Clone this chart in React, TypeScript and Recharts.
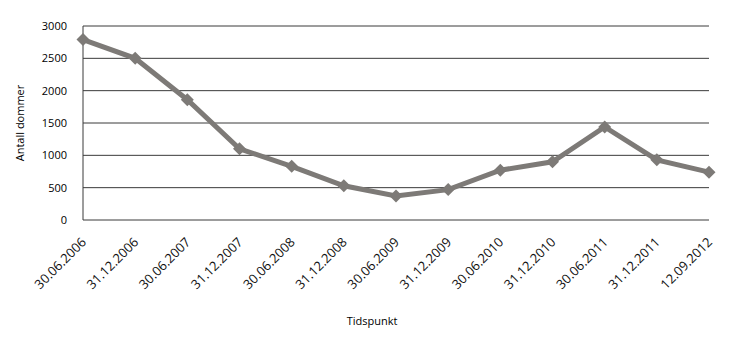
import { LineChart, Line, XAxis, YAxis, CartesianGrid, Label } from 'recharts'

const dates = [
  '30.06.2006', '31.12.2006', '30.06.2007', '31.12.2007', '30.06.2008', '31.12.2008',
  '30.06.2009', '31.12.2009', '30.06.2010', '31.12.2010', '30.06.2011', '31.12.2011', '12.09.2012',
]
const dommer = [2790, 2500, 1860, 1100, 830, 530, 370, 470, 770, 900, 1440, 930, 740]
const yTicks = [0, 500, 1000, 1500, 2000, 2500, 3000]

const data = dates.map((d, i) => ({ date: d, value: dommer[i] }))

const FONT = '"Open Sans", sans-serif'
const LINE = '#7d7a77'

const Diamond = (props: any) => {
  const { cx, cy } = props
  if (cx == null || cy == null) return null
  const r = 6.5
  return <path d={`M${cx},${cy - r}L${cx + r},${cy}L${cx},${cy + r}L${cx - r},${cy}Z`} fill={LINE} />
}

const DateTick = (props: any) => {
  const { x, y, payload } = props
  return (
    <text x={x + 4} y={y + 15} transform={`rotate(-45 ${x + 4} ${y + 15})`}
      textAnchor="end" fontSize={13} fontFamily={FONT} fill="#111">
      {payload.value}
    </text>
  )
}

export default function App() {
  return (
    <div style={{ position: 'absolute', left: 0, top: 0 }}>
      <LineChart width={730} height={343} data={data} margin={{ top: 26, right: 21, left: 0, bottom: 0 }}>
        <CartesianGrid vertical={false} stroke="#3a3a3a" strokeWidth={1} />
        <XAxis dataKey="date" axisLine={false} tickLine={false} height={123} interval={0}
          tick={<DateTick />} padding={{ left: 0, right: 0 }}>
          <Label value="Tidspunkt" position="insideBottom" offset={18} dx={-24}
            style={{ fontSize: 11, fontFamily: FONT, fill: '#000' }} />
        </XAxis>
        <YAxis width={83} domain={[0, 3000]} ticks={yTicks} interval={0} tickLine={false}
          axisLine={{ stroke: '#3a3a3a' }} tickSize={0} tickMargin={16}
          tick={{ fontSize: 11, fontFamily: FONT, fill: '#000' }}>
          <Label value="Antall dommer" angle={-90} position="center" dx={-21}
            style={{ fontSize: 11, fontFamily: FONT, fill: '#000', textAnchor: 'middle' }} />
        </YAxis>
        <Line type="linear" dataKey="value" stroke={LINE} strokeWidth={5} dot={<Diamond />}
          activeDot={false} isAnimationActive={false} />
      </LineChart>
    </div>
  )
}
